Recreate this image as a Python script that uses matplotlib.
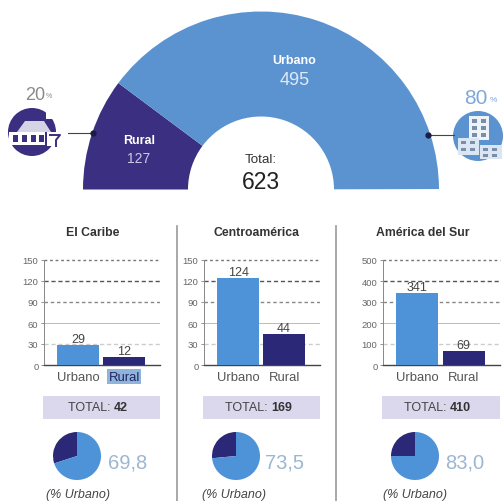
import matplotlib
matplotlib.use("Agg")
import matplotlib.pyplot as plt
from matplotlib.patches import Circle, Rectangle, Polygon

plt.rcParams['font.family'] = ['Liberation Sans', 'DejaVu Sans']

# data
total_urbano = 495
total_rural = 127
total_all = 623
pct_rural = "20"
pct_urbano = "80"

regions = ["El Caribe", "Centroamérica", "América del Sur"]
categories = ["Urbano", "Rural"]
urbano = [29, 124, 341]
rural = [12, 44, 69]
totals = ["42", "169", "410"]
pct_labels = ["69,8", "73,5", "83,0"]
# dark slice as it is drawn in the small pies
pie_rural_share = [30, 26.5, 25]
y_ticks = [[0, 30, 60, 90, 120, 150], [0, 30, 60, 90, 120, 150], [0, 100, 200, 300, 400, 500]]

BLUE = "#5b93d1"
BAR_BLUE = "#4e92d8"
DARK = "#3a2f80"
BAR_DARK = "#2b2877"
W, H = 504, 502

fig = plt.figure(figsize=(W / 100, H / 100), dpi=100)


def px_axes(left, top, right, bottom):
    return fig.add_axes([left / W, 1 - bottom / H, (right - left) / W, (bottom - top) / H])


bg = px_axes(0, 0, W, H)
bg.set_xlim(0, W)
bg.set_ylim(H, 0)
bg.axis("off")
bg.set_zorder(5)

# big half donut
r = 178
ax = px_axes(261 - r, 190.5 - r, 261 + r, 190.5 + r)
ax.pie([total_rural, total_urbano, total_all], colors=[DARK, BLUE, "none"], startangle=180,
       counterclock=False, radius=1, wedgeprops=dict(width=1 - 73 / r, linewidth=0))
ax.set_xlim(-1, 1)
ax.set_ylim(-1, 1)

ax.text(0.185, 0.725, "Urbano", color="white", fontsize=9, fontweight="bold", ha="center", va="center")
ax.text(0.19, 0.62, str(total_urbano), color="#dfe9f6", fontsize=13, ha="center", va="center")
ax.text(-0.685, 0.28, "Rural", color="white", fontsize=9, fontweight="bold", ha="center", va="center")
ax.text(-0.69, 0.175, str(total_rural), color="#cfcbe6", fontsize=10, ha="center", va="center")
ax.text(0, 0.17, "Total:", color="#333333", fontsize=9.6, ha="center", va="center")
ax.text(0, 0.045, str(total_all), color="#222222", fontsize=16.5, ha="center", va="center")

# left icon
bg.plot([68, 93], [134, 134], color="#444444", lw=0.8)
bg.plot([93], [134], "o", color="#1c1c40", ms=3.5)
bg.text(35, 95, pct_rural, color="#8a8a8a", fontsize=13, ha="center", va="center")
bg.text(49, 97, "%", color="#8a8a8a", fontsize=5, ha="center", va="center")
bg.add_patch(Circle((32, 133), 24, color=DARK, lw=0))
bg.add_patch(Rectangle((46, 108), 14, 12, color="white", lw=0))
bg.add_patch(Polygon([(17, 133), (25, 122), (44, 122), (51, 133)], color="#d5d3e6", lw=0))
bg.add_patch(Rectangle((9, 133), 36, 13, color="white", lw=0))
for x in (13, 22, 31, 39):
    bg.add_patch(Rectangle((x, 136), 4.5, 7, color=DARK, lw=0))
bg.add_patch(Rectangle((47, 133), 16, 14, color="white", lw=0))
bg.plot([50, 60, 56, 56], [136, 136, 141, 147], color=DARK, lw=1.4)

# right icon
bg.plot([428, 454], [136, 136], color="#444444", lw=0.8)
bg.plot([428], [136], "o", color="#1c1c40", ms=3.5)
bg.text(476, 99, pct_urbano, color="#7ea8d8", fontsize=15, ha="center", va="center")
bg.text(493, 101, "%", color="#7ea8d8", fontsize=6, ha="center", va="center")
bg.add_patch(Circle((478, 137), 25, color=BLUE, lw=0))
bg.add_patch(Rectangle((469, 117), 20, 24, color="#eef3fa", lw=0))
bg.add_patch(Rectangle((458, 139), 21, 17, color="#dbe6f4", lw=0))
bg.add_patch(Rectangle((480, 146), 22, 14, color="#dbe6f4", lw=0))
for x in (472, 481):
    for y in (120, 127, 134):
        bg.add_patch(Rectangle((x, y), 5, 3.5, color="#7b8ea8", lw=0))
for x in (461, 470):
    for y in (142, 149):
        bg.add_patch(Rectangle((x, y), 5, 3, color="#7b8ea8", lw=0))
for x in (483, 492):
    for y in (149, 155):
        bg.add_patch(Rectangle((x, y), 5, 3, color="#7b8ea8", lw=0))

# dividers
bg.plot([176.5, 176.5], [227, H], color="#999999", lw=1.2)
bg.plot([336, 336], [227, H], color="#999999", lw=1.2)

# regional panels
bar_left = [44, 204, 383]
bar_right = [160, 320, 500]
title_x = [93, 256, 423]
pie_x = [77, 236, 415]
label_x = [128, 284, 465]
note_x = [78, 234, 415]
total_x = [68, 225, 404]

for i in range(3):
    bg.text(title_x[i], 233, regions[i], color="#333333", fontsize=8.8, fontweight="bold", ha="center", va="center")

    b = px_axes(bar_left[i], 261, bar_right[i], 366)
    b.bar([0, 1], [urbano[i], rural[i]], width=0.91, color=[BAR_BLUE, BAR_DARK], zorder=3)
    b.set_xlim(-0.74, 1.78)
    b.set_ylim(0, y_ticks[i][-1])
    b.set_xticks([0, 1], categories)
    b.set_yticks(y_ticks[i])
    b.tick_params(axis="y", labelsize=6.8, colors="#666666", length=2, width=0.5, pad=2)
    b.tick_params(axis="x", labelsize=9.4, colors="#555555", length=0, pad=4)
    for s in ("top", "right"):
        b.spines[s].set_visible(False)
    b.spines["left"].set_color("#888888")
    b.spines["left"].set_linewidth(0.7)
    b.spines["bottom"].set_color("#444444")
    b.spines["bottom"].set_linewidth(1)
    # grid lines differ a bit from one level to another
    b.patch.set_alpha(0)
    step = y_ticks[i][1]
    b.axhline(step, color="#cccccc", lw=1, ls=(0, (3, 2)), zorder=1)
    b.axhline(step * 2, color="#bbbbbb", lw=0.7, zorder=1)
    b.axhline(step * 3, color="#888888", lw=1, ls=(0, (2.5, 2)), zorder=1)
    b.axhline(step * 4, color="#555555", lw=1, ls=(0, (3, 2)), zorder=1)
    b.axhline(step * 5, color="#777777", lw=1, ls=(0, (2, 2)), clip_on=False, zorder=1)
    b.text(0, urbano[i], str(urbano[i]), color="#444444", fontsize=9, ha="center", va="bottom", zorder=4)
    b.text(1, rural[i], str(rural[i]), color="#444444", fontsize=9, ha="center", va="bottom", zorder=4)
    if i == 0:
        b.get_xticklabels()[1].set_bbox(dict(facecolor="#8fb4dc", edgecolor="none", pad=0.8))
        b.get_xticklabels()[1].set_color("#23235f")

    bg.add_patch(Rectangle((bar_left[i] - 1, 397), bar_right[i] - bar_left[i] + 1, 23, color="#dbd8ee", lw=0))
    t = bg.annotate("TOTAL: ", (total_x[i], 408.5), color="#444444", fontsize=9, va="center", ha="left")
    bg.annotate(totals[i], xy=(1, 0.5), xycoords=t, color="#333333", fontsize=9, fontweight="bold", va="center", ha="left")

    p = px_axes(pie_x[i] - 24, 433, pie_x[i] + 24, 481)
    p.pie([pie_rural_share[i], 100 - pie_rural_share[i]], colors=[BAR_DARK, BAR_BLUE], startangle=90, radius=1,
          wedgeprops=dict(linewidth=0))
    p.set_xlim(-1, 1)
    p.set_ylim(-1, 1)

    bg.text(label_x[i], 463, pct_labels[i], color="#9db6d2", fontsize=14.5, ha="center", va="center")
    bg.text(note_x[i], 495, "(% Urbano)", color="#444444", fontsize=9, style="italic", ha="center", va="center")

fig.savefig("out.png", dpi=100)
